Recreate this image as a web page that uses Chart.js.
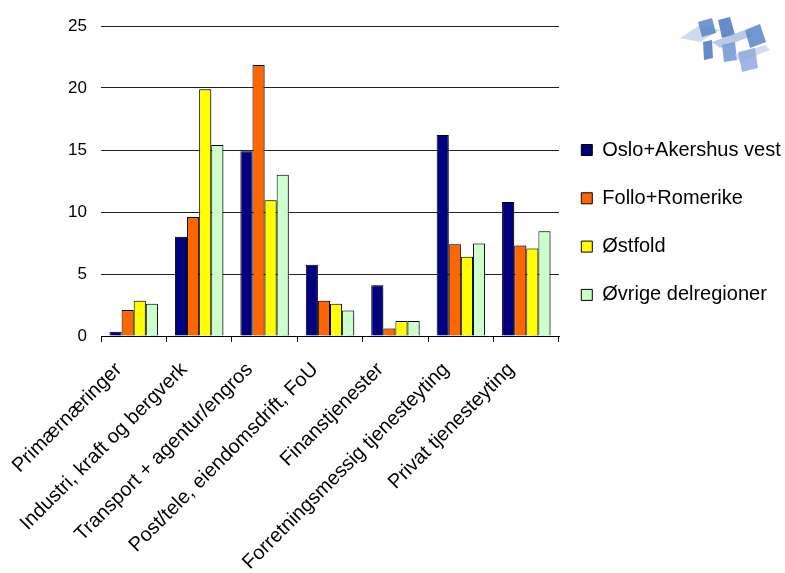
<!DOCTYPE html>
<html>
<head>
<meta charset="utf-8">
<script src="https://cdn.jsdelivr.net/npm/chart.js"></script>
<style>
	body { margin: 0; background: #fff; }
	#wrap { width: 785px; height: 573px; }
</style>
</head>
<body>
<div id="wrap"><canvas id="myChart" width="785" height="573"></canvas></div>
<script>
const categories = [
	"Primærnæringer",
	"Industri, kraft og bergverk",
	"Transport + agentur/engros",
	"Post/tele, eiendomsdrift, FoU",
	"Finanstjenester",
	"Forretningsmessig tjenesteyting",
	"Privat tjenesteyting",
];
const seriesNames = ["Oslo+Akershus vest", "Follo+Romerike", "Østfold", "Øvrige delregioner"];
const osloAkershusVest = [0.35, 8.0, 14.9, 5.75, 4.1, 16.2, 10.8];
const folloRomerike = [2.1, 9.6, 21.85, 2.85, 0.6, 7.4, 7.3];
const ostfold = [2.85, 19.9, 10.95, 2.6, 1.2, 6.4, 7.05];
const ovrige = [2.6, 15.4, 13.0, 2.05, 1.2, 7.45, 8.45];
const yTicks = [0, 5, 10, 15, 20, 25];

const colors = ["#000080", "#ff6600", "#ffff00", "#ccffcc"];
const seriesValues = [osloAkershusVest, folloRomerike, ostfold, ovrige];

Chart.defaults.font.family = "'Liberation Sans', Arial, sans-serif";
Chart.defaults.color = "#000";

// soft grey drop shadow behind the bars, like the excel original
const barShadow = {
	id: "barShadow",
	beforeDatasetsDraw: (chart) => {
		const c = chart.ctx;
		c.save();
		c.shadowColor = "rgba(0,0,0,0.3)";
		c.shadowOffsetX = 2;
		c.shadowOffsetY = 0;
		c.shadowBlur = 1;
	},
	afterDatasetsDraw: (chart) => {
		chart.ctx.restore();
	},
};

// legend sits next to the plot, a bit below the top
const legendNudge = {
	id: "legendNudge",
	afterLayout: (chart) => {
		chart.legend.left -= 6;
		chart.legend.top = 111.7;
	},
};

// rough copy of the blue logo in the top right corner
const logoShapes = [
	{ c: "#c5d3ef", p: [[680, 38], [700, 25], [720, 30], [700, 42]] },
	{ c: "#5b86c8", p: [[698, 22], [712, 18], [716, 33], [702, 37]] },
	{ c: "#4a78c0", p: [[718, 20], [730, 17], [735, 35], [722, 38]] },
	{ c: "#aebfe6", p: [[712, 42], [745, 30], [752, 36], [720, 48]] },
	{ c: "#5b86c8", p: [[745, 30], [760, 24], [766, 42], [750, 48]] },
	{ c: "#4a78c0", p: [[703, 42], [712, 40], [713, 58], [704, 60]] },
	{ c: "#6f95d2", p: [[722, 45], [735, 42], [737, 60], [724, 62]] },
	{ c: "#c8d5f0", p: [[735, 55], [765, 45], [770, 50], [740, 62]] },
	{ c: "#8fa9df", p: [[738, 52], [755, 48], [758, 68], [742, 72]] },
];
const logo = {
	id: "logo",
	afterDraw: (chart) => {
		const c = chart.ctx;
		c.save();
		c.globalAlpha = 0.85;
		logoShapes.forEach((s) => {
			c.fillStyle = s.c;
			c.beginPath();
			s.p.forEach(([x, y], i) => (i ? c.lineTo(x, y) : c.moveTo(x, y)));
			c.closePath();
			c.fill();
		});
		c.restore();
	},
};

const ctx = document.getElementById("myChart");
const myChart = new Chart(ctx, {
	type: "bar",
	data: {
		labels: categories,
		datasets: seriesNames.map((name, i) => ({
			label: name,
			data: seriesValues[i],
			backgroundColor: colors[i],
			borderColor: "#000",
			borderWidth: 1,
			categoryPercentage: 0.74,
			barPercentage: 1,
		})),
	},
	options: {
		responsive: false,
		animation: false,
		events: [],
		layout: {
			padding: { left: 61, top: 26, right: 0, bottom: 0 },
		},
		plugins: {
			legend: {
				position: "right",
				align: "start",
				maxWidth: 226,
				labels: {
					boxWidth: 11,
					boxHeight: 11,
					padding: 28.3,
					font: { size: 20 },
					color: "#000",
				},
			},
			tooltip: { enabled: false },
		},
		scales: {
			x: {
				grid: {
					offset: true,
					drawOnChartArea: false,
					drawTicks: true,
					tickLength: 6,
					color: "#000",
				},
				border: { display: true, color: "#000", width: 1 },
				ticks: {
					autoSkip: false,
					minRotation: 45,
					maxRotation: 45,
					labelOffset: -15,
					padding: 16,
					font: { size: 20 },
					color: "#000",
				},
				afterFit: (scale) => {
					scale.height = 237;
				},
			},
			y: {
				min: 0,
				max: 25,
				afterBuildTicks: (scale) => {
					scale.ticks = yTicks.map((v) => ({ value: v }));
				},
				grid: {
					color: "#222",
					lineWidth: 1,
					drawTicks: false,
				},
				border: { display: false },
				ticks: {
					padding: 14,
					font: { size: 17 },
					color: "#000",
				},
				afterFit: (scale) => {
					scale.width = 40;
				},
			},
		},
	},
	plugins: [barShadow, legendNudge, logo],
});
</script>
</body>
</html>
